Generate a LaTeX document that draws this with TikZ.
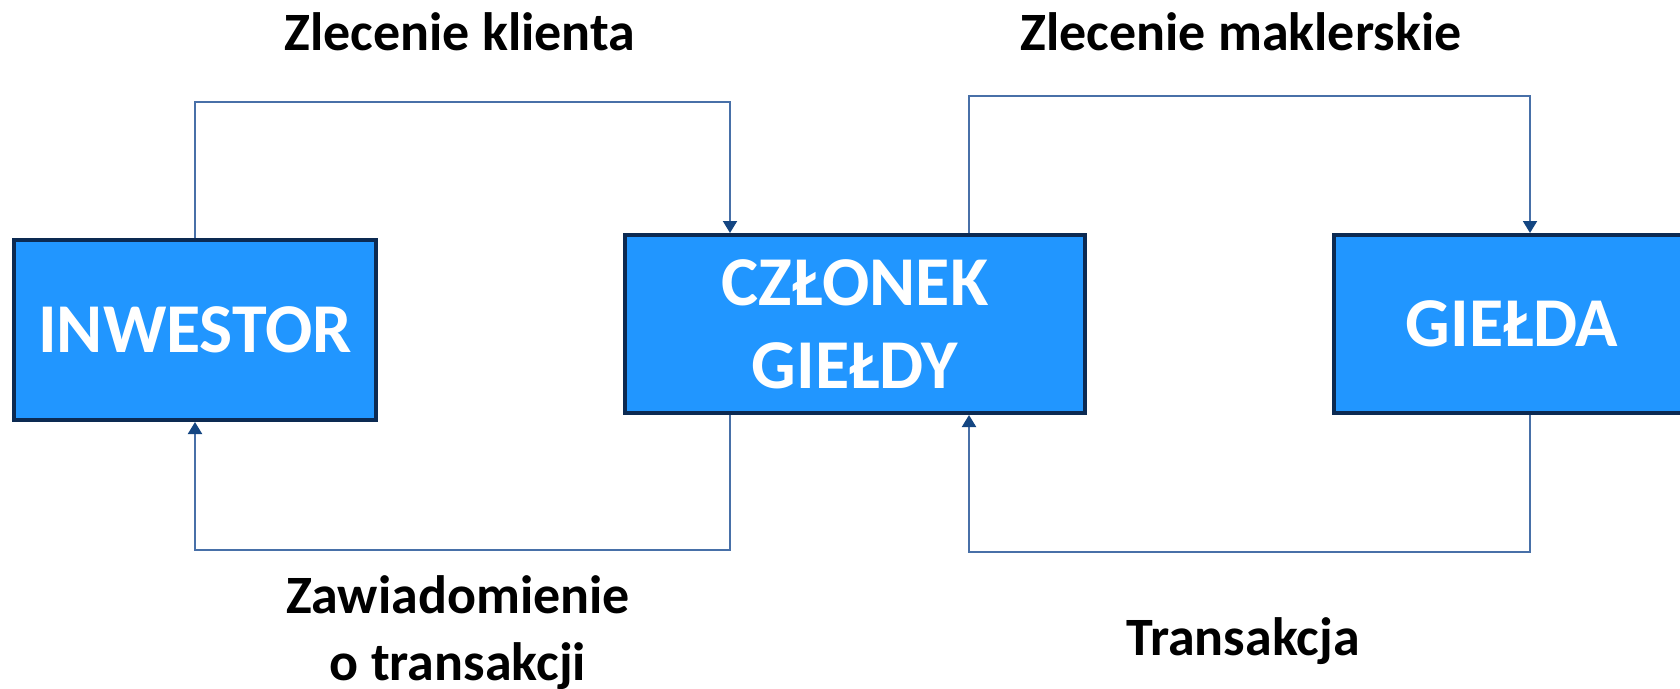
\documentclass[tikz,border=0pt]{standalone}
\usepackage{fontspec}
\setmainfont{Carlito}
\usetikzlibrary{arrows.meta}
\definecolor{boxblue}{RGB}{33,150,255}
\definecolor{boxedge}{RGB}{12,42,82}
\definecolor{linkblue}{RGB}{72,112,168}
\definecolor{tipblue}{RGB}{20,70,130}
\tikzset{
unit/.style={draw=boxedge, line width=4pt, fill=boxblue, text=white,
  font=\fontsize{70}{83}\selectfont\bfseries, align=center, inner sep=0pt},
link/.style={draw=linkblue, line width=2pt,
  -{Triangle[width=14pt,length=12pt,color=tipblue]}},
caption/.style={font=\fontsize{54}{67}\selectfont\bfseries, align=center,
  inner sep=0pt, anchor=base}
}

\begin{document}
\begin{tikzpicture}[x=1pt,y=-1pt]
\useasboundingbox (0,0) rectangle (1680,688);

% the three parties
\node[unit, minimum width=362pt, minimum height=180pt] (inv) at (195,330) {INWESTOR};
\node[unit, minimum width=460pt, minimum height=178pt] (czl) at (855,324) {CZŁONEK\\GIEŁDY};
\node[unit, minimum width=356pt, minimum height=178pt] (gie) at (1512,324) {GIEŁDA};

% levels of the loops
\coordinate (lvl-a) at (0,102);
\coordinate (lvl-b) at (0,96);
\coordinate (lvl-c) at (0,550);
\coordinate (lvl-d) at (0,552);

\coordinate (czl-nw) at ([xshift=-125pt]czl.north);
\coordinate (czl-ne) at ([xshift=114pt]czl.north);
\coordinate (czl-sw) at ([xshift=-125pt]czl.south);
\coordinate (czl-se) at ([xshift=114pt]czl.south);
\coordinate (gie-n) at ([xshift=18pt]gie.north);
\coordinate (gie-s) at ([xshift=18pt]gie.south);

\draw[link] (inv.north) -- (inv.north |- lvl-a) -| (czl-nw);
\draw[link] (czl-sw) -- (czl-sw |- lvl-c) -| (inv.south);
\draw[link] (czl-ne) -- (czl-ne |- lvl-b) -| (gie-n);
\draw[link] (gie-s) -- (gie-s |- lvl-d) -| (czl-se);

% labels
\node[caption] (zk) at (460,50) {Zlecenie klienta};
\node[caption] (zm) at (1241,50) {Zlecenie maklerskie};
\node[caption] (zt) at (458,680) {Zawiadomienie\\o transakcji};
\node[caption] (tr) at (1243,655) {Transakcja};
\end{tikzpicture}
\end{document}
